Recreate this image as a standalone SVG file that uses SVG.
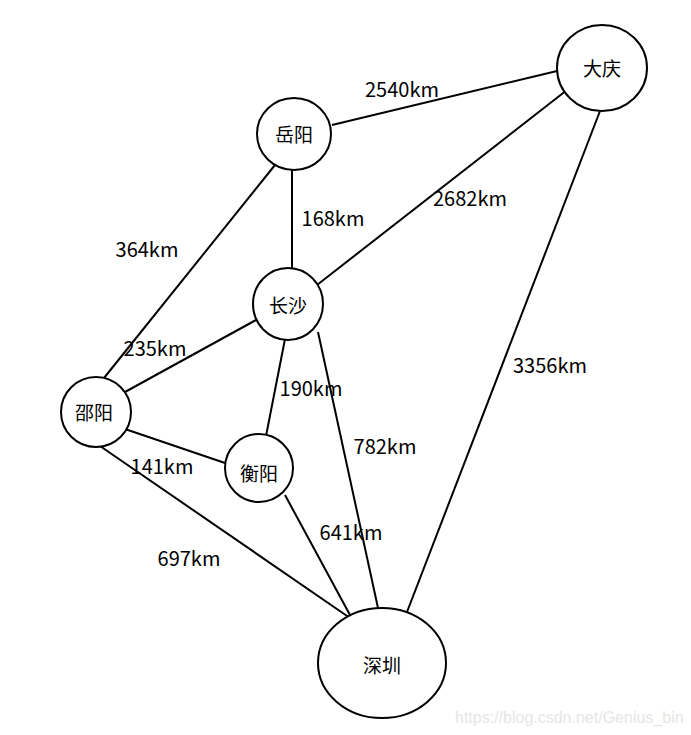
<svg xmlns="http://www.w3.org/2000/svg" width="691" height="735" viewBox="0 0 691 735">
<style>
.n{fill:#fff;stroke:#000;stroke-width:2}
.e{stroke:#000;stroke-width:2;fill:none}
.t{font-family:"Noto Sans CJK SC","Noto Sans",sans-serif;font-size:19px;fill:#000;text-anchor:middle;dominant-baseline:central}
.l{font-family:"Noto Sans CJK SC","Noto Sans",sans-serif;font-size:20px;fill:#000;text-anchor:middle;dominant-baseline:central}
.w{font-family:"Liberation Sans",Arial,sans-serif;font-size:16px;fill:#e6e6e6}
</style>
<rect width="691" height="735" fill="#fff"/>
<g id="connectors">
<line class="e" x1="332" y1="125" x2="557" y2="71"/>
<line class="e" x1="292" y1="170" x2="292" y2="268"/>
<line class="e" x1="275" y1="165" x2="104" y2="378"/>
<line class="e" x1="317" y1="285" x2="567" y2="90"/>
<line class="e" x1="256" y1="320" x2="125" y2="392"/>
<line class="e" x1="285" y1="339" x2="266" y2="436"/>
<line class="e" x1="318" y1="332" x2="378" y2="608"/>
<line class="e" x1="600" y1="111" x2="407" y2="612"/>
<line class="e" x1="122" y1="428" x2="225" y2="463"/>
<line class="e" x1="100" y1="446" x2="350" y2="618"/>
<line class="e" x1="285" y1="495" x2="350" y2="615"/>
<text class="l" x="402" y="88">2540km</text>
<text class="l" x="333" y="217">168km</text>
<text class="l" x="470" y="197">2682km</text>
<text class="l" x="147" y="248">364km</text>
<text class="l" x="155" y="347">235km</text>
<text class="l" x="311" y="387">190km</text>
<text class="l" x="550" y="364">3356km</text>
<text class="l" x="385" y="445">782km</text>
<text class="l" x="162" y="465">141km</text>
<text class="l" x="351" y="531">641km</text>
<text class="l" x="189" y="557">697km</text>
</g>
<g id="yueyang"><ellipse class="n" cx="294" cy="134" rx="37" ry="36"/><text class="t" x="294" y="133">岳阳</text></g>
<g id="daqing"><ellipse class="n" cx="602" cy="68" rx="45" ry="43"/><text class="t" x="602" y="67">大庆</text></g>
<g id="changsha"><ellipse class="n" cx="288" cy="304" rx="35" ry="36"/><text class="t" x="288" y="304">长沙</text></g>
<g id="shaoyang"><ellipse class="n" cx="96" cy="412" rx="35" ry="35"/><text class="t" x="94" y="411">邵阳</text></g>
<g id="hengyang"><ellipse class="n" cx="259" cy="468" rx="34" ry="34"/><text class="t" x="259" y="472">衡阳</text></g>
<g id="shenzhen"><ellipse class="n" cx="382" cy="663" rx="64" ry="55"/><text class="t" x="382" y="664">深圳</text></g>
<text class="w" x="455" y="723">https://blog.csdn.net/Genius_bin</text>
</svg>
